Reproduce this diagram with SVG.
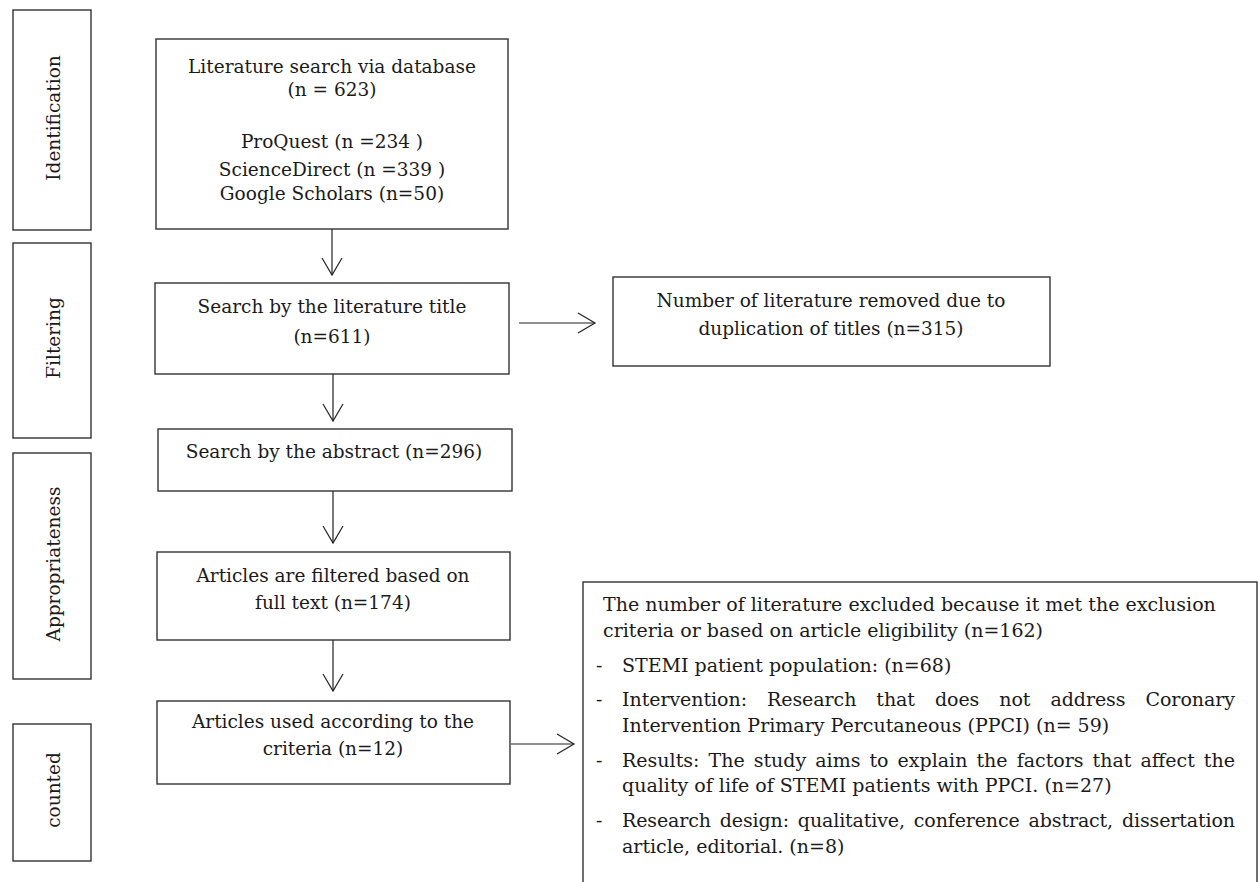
<svg xmlns="http://www.w3.org/2000/svg" width="1259" height="882" viewBox="0 0 1259 882">
<style>
  .box{fill:#fff;stroke:#333;stroke-width:1.4}
  .t{font-family:"DejaVu Serif","Liberation Serif",serif;font-size:18.5px;fill:#1a1a1a}
  .r{font-size:19px}
  .c{text-anchor:middle}
  .lbl{font-family:"DejaVu Serif","Liberation Serif",serif;font-size:18.5px;fill:#1a1a1a;text-anchor:middle}
  .conn{stroke:#222;stroke-width:1.2;fill:none}
</style>
<defs>
  <marker id="v" markerUnits="userSpaceOnUse" markerWidth="24" markerHeight="24" viewBox="-2 -2 24 24" refX="17" refY="10" orient="auto" overflow="visible">
    <path d="M0,0 L17,10 L0,20" fill="none" stroke="#222" stroke-width="1.2"/>
  </marker>
</defs>
<rect width="1259" height="882" fill="#fff"/>

<g id="stage-identification">
  <rect class="box" x="13" y="10" width="78" height="220"/>
  <text class="lbl" transform="translate(60,118) rotate(-90)">Identification</text>
</g>
<g id="stage-filtering">
  <rect class="box" x="13" y="243" width="78" height="195"/>
  <text class="lbl" transform="translate(60,338) rotate(-90)">Filtering</text>
</g>
<g id="stage-appropriateness">
  <rect class="box" x="13" y="453" width="78" height="226"/>
  <text class="lbl" transform="translate(60,564) rotate(-90)">Appropriateness</text>
</g>
<g id="stage-counted">
  <rect class="box" x="13" y="724" width="78" height="137"/>
  <text class="lbl" transform="translate(60,790) rotate(-90)">counted</text>
</g>

<g id="node-database">
  <rect class="box" x="156" y="39" width="352" height="190"/>
  <text class="t c" x="332" y="73">Literature search via database</text>
  <text class="t c" x="332" y="96">(n = 623)</text>
  <text class="t c" x="332" y="148">ProQuest (n =234 )</text>
  <text class="t c" x="332" y="176">ScienceDirect (n =339 )</text>
  <text class="t c" x="332" y="200">Google Scholars (n=50)</text>
</g>
<g id="node-title">
  <rect class="box" x="155" y="283" width="354" height="91"/>
  <text class="t c" x="332" y="313">Search by the literature title</text>
  <text class="t c" x="332" y="343">(n=611)</text>
</g>
<g id="node-duplicates">
  <rect class="box" x="613" y="277" width="437" height="89"/>
  <text class="t c" x="831" y="307">Number of literature removed due to</text>
  <text class="t c" x="831" y="335">duplication of titles (n=315)</text>
</g>
<g id="node-abstract">
  <rect class="box" x="158" y="429" width="354" height="62"/>
  <text class="t c" x="334" y="458">Search by the abstract (n=296)</text>
</g>
<g id="node-fulltext">
  <rect class="box" x="157" y="552" width="353" height="88"/>
  <text class="t c" x="333" y="582">Articles are filtered based on</text>
  <text class="t c" x="333" y="609">full text (n=174)</text>
</g>
<g id="node-criteria">
  <rect class="box" x="157" y="701" width="353" height="83"/>
  <text class="t c" x="333" y="728">Articles used according to the</text>
  <text class="t c" x="333" y="755">criteria (n=12)</text>
</g>
<g id="node-excluded">
  <rect class="box" x="583" y="582" width="674" height="330"/>
  <text class="t r" x="603" y="611">The number of literature excluded because it met the exclusion</text>
  <text class="t r" x="603" y="637">criteria or based on article eligibility (n=162)</text>
  <text class="t r" x="596" y="672">-</text>
  <text class="t r" x="622" y="672">STEMI patient population: (n=68)</text>
  <text class="t r" x="596" y="706">-</text>
  <text class="t r" x="622" y="706" word-spacing="14" textLength="613" lengthAdjust="spacing">Intervention: Research that does not address Coronary</text>
  <text class="t r" x="622" y="732">Intervention Primary Percutaneous (PPCI) (n= 59)</text>
  <text class="t r" x="596" y="767">-</text>
  <text class="t r" x="622" y="767" word-spacing="3" textLength="613" lengthAdjust="spacing">Results: The study aims to explain the factors that affect the</text>
  <text class="t r" x="622" y="792">quality of life of STEMI patients with PPCI. (n=27)</text>
  <text class="t r" x="596" y="827">-</text>
  <text class="t r" x="622" y="827" word-spacing="3" textLength="613" lengthAdjust="spacing">Research design: qualitative, conference abstract, dissertation</text>
  <text class="t r" x="622" y="853">article, editorial. (n=8)</text>
</g>

<g id="connectors">
  <line class="conn" x1="332" y1="229" x2="332" y2="275" marker-end="url(#v)"/>
  <line class="conn" x1="333" y1="374" x2="333" y2="421" marker-end="url(#v)"/>
  <line class="conn" x1="519" y1="323" x2="595" y2="323" marker-end="url(#v)"/>
  <line class="conn" x1="333" y1="491" x2="333" y2="543" marker-end="url(#v)"/>
  <line class="conn" x1="333" y1="640" x2="333" y2="691" marker-end="url(#v)"/>
  <line class="conn" x1="511" y1="744" x2="574" y2="744" marker-end="url(#v)"/>
</g>
</svg>
